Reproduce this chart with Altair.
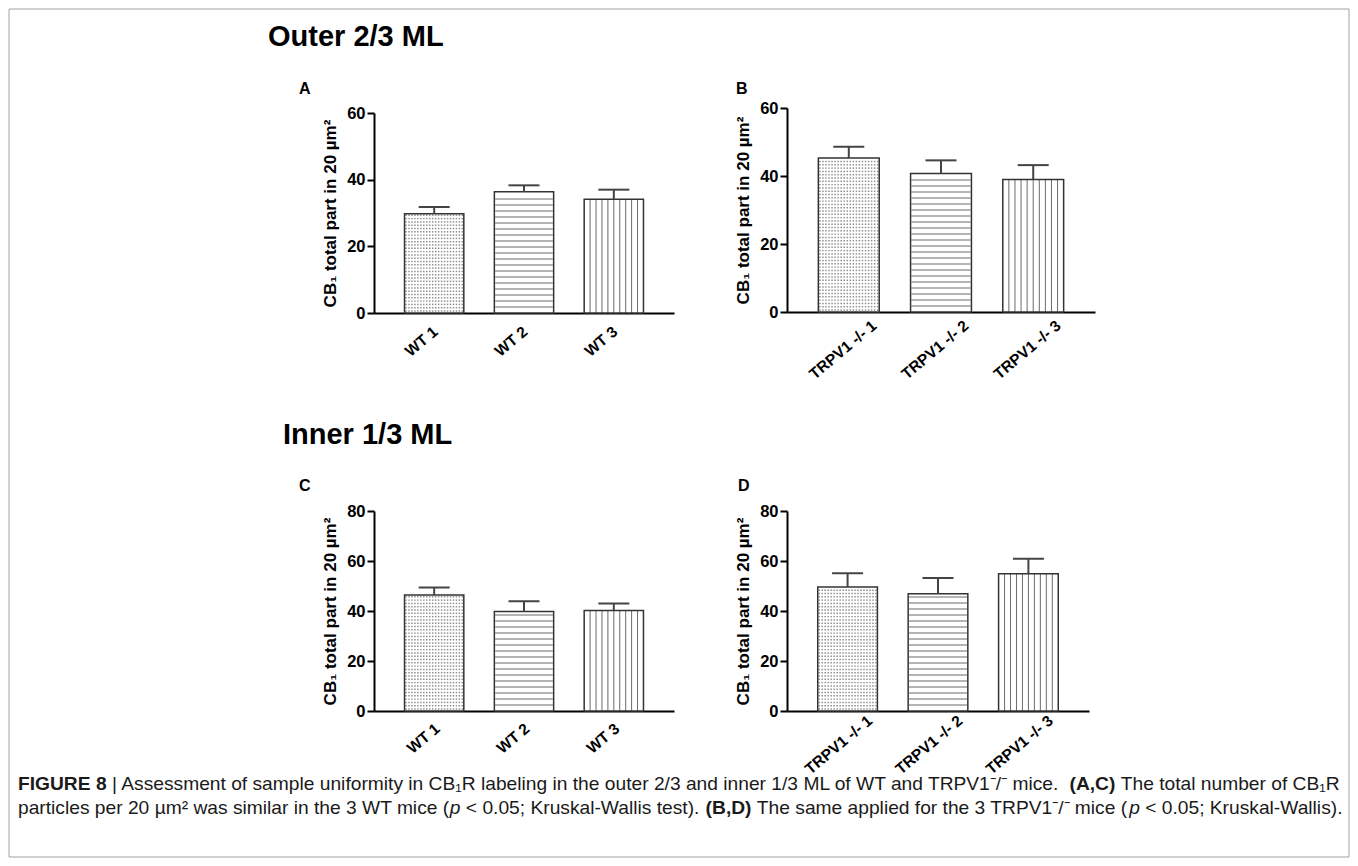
import altair as alt
import pandas as pd

# ---------------- data ----------------
wt_labels = ["WT 1", "WT 2", "WT 3"]
ko_labels = ["TRPV1 -/- 1", "TRPV1 -/- 2", "TRPV1 -/- 3"]
fill_patterns = ["dots", "hlines", "vlines"]

outer_wt_mean = [29.8, 36.4, 34.1]
outer_wt_sem = [2.0, 1.9, 2.9]
outer_ko_mean = [45.3, 40.7, 39.0]
outer_ko_sem = [3.3, 3.9, 4.2]
inner_wt_mean = [46.4, 39.8, 40.2]
inner_wt_sem = [3.0, 4.1, 2.8]
inner_ko_mean = [49.6, 46.9, 54.9]
inner_ko_sem = [5.5, 6.3, 6.0]

y_axis_title = "CB₁ total part in 20 µm²"
outer_title = "Outer 2/3 ML"
inner_title = "Inner 1/3 ML"
panel_letters = ["A", "B", "C", "D"]
caption_line1 = [
    ("FIGURE 8", "b"),
    (" | Assessment of sample uniformity in CB₁R labeling in the outer 2/3 and inner 1/3 ML of WT and TRPV1⁻/⁻ mice. ", "r"),
    ("(A,C)", "b"),
    (" The total number of CB₁R", "r"),
]
caption_line2 = [
    ("particles per 20 µm² was similar in the 3 WT mice (", "r"),
    ("p", "i"),
    (" < 0.05; Kruskal-Wallis test). ", "r"),
    ("(B,D)", "b"),
    (" The same applied for the 3 TRPV1⁻/⁻ mice (", "r"),
    ("p", "i"),
    (" < 0.05; Kruskal-Wallis).", "r"),
]

# ---------------- style ----------------
FONT = "Liberation Sans, Arial, Helvetica, sans-serif"
OUTLINE = "#333333"
PATTERN = "#6b6b6b"
DOTS = "#8f8f8f"
ERR = "#444444"
BORDER = "#a3a3a3"
HALF = 0.33          # half bar width, in category-step units
OUTER = 0.67         # distance of first bar centre from the axis, in steps
ONE = pd.DataFrame({"k": [0]})

# Arial / Liberation Sans advance widths (1/1000 em), used only to place caption runs
def _table(groups):
    t = {}
    for w, chars in groups.items():
        for ch in chars:
            t[ch] = w / 1000.0
    return t

REG = _table({191: "'", 222: "ijl", 260: "|", 278: " !,./:;[]\\Ift", 333: "()-r`",
              355: '"', 389: "*", 500: "ckvxyzsJ", 556: "0123456789abdeghnopqu$#?_L",
              584: "+<=>", 611: "FTZ", 667: "ABEKPSVXY&", 722: "CDHNRUw",
              778: "GOQ", 833: "mM", 889: "%", 944: "W"})
BOLD = _table({278: " ,./ijlI", 280: "|", 333: "()-:;ft", 389: "r", 500: "z",
               556: "0123456789acesJkvxy", 611: "bdghnopquFTZL", 667: "EPSVXY",
               722: "ABCDHKNRU", 778: "GOQw", 833: "M", 889: "m", 944: "W"})
EXTRA = {"₁": 0.40, "⁻": 0.35, "²": 0.333, "µ": 0.576, "μ": 0.576}


def em_width(s, table):
    return sum(table.get(ch, EXTRA.get(ch, 0.556)) for ch in s)


def label(text, x, y, size, weight="normal", style="normal", align="left", color="#000000"):
    return alt.Chart(ONE).mark_text(
        align=align, baseline="alphabetic", fontSize=size, fontWeight=weight,
        fontStyle=style, font=FONT, color=color,
    ).encode(x=alt.value(x), y=alt.value(y), text=alt.value(text))


def caption_runs(segments, x0, y, fs):
    out = []
    cx = x0
    for text, kind in segments:
        table = BOLD if kind == "b" else REG
        lead = len(text) - len(text.lstrip(" "))
        sx = cx + lead * table[" "] * fs
        out.append(label(text.strip(" "), sx, y, fs,
                         weight="bold" if kind == "b" else "normal",
                         style="italic" if kind == "i" else "normal",
                         color="#1a1a1a"))
        cx += em_width(text, table) * fs
    return out


def panel(labels, means, sems, ymax, width, height, top_pad, lab_offset, lab_pad, extra=()):
    df = pd.DataFrame({"idx": [0, 1, 2], "label": labels, "mean": means, "sem": sems,
                       "pat": fill_patterns})
    plot_h = height - top_pad
    hstep = ymax * 6.0 / plot_h
    dstep = ymax * 3.3 / plot_h
    step_px = width / (2 + 2 * OUTER)
    cap_half = 15.5 / step_px
    inset = 0.8 / step_px

    xs = alt.Scale(domain=[-OUTER, 2 + OUTER], nice=False, zero=False)
    ys = alt.Scale(domain=[0, ymax], range=[height, top_pad], nice=False)
    label_expr = "[" + ",".join("'" + l + "'" for l in labels) + "][datum.value]"
    x_axis = alt.Axis(
        title="", values=[0, 1, 2], labelExpr=label_expr, labelFlush=False,
        labelAngle=-40, labelAlign="right", labelBaseline="middle",
        labelFont=FONT, labelFontSize=15.5, labelFontWeight="bold", labelColor="#000000",
        labelPadding=lab_pad, labelOffset=lab_offset, ticks=False,
        domainColor="#000000", domainWidth=2, grid=False, labelOverlap=False,
    )
    y_axis = alt.Axis(
        title=y_axis_title, values=list(range(0, ymax + 1, 20)), format="d",
        labelFont=FONT, labelFontSize=16.5, labelFontWeight="bold", labelColor="#000000",
        labelPadding=2, tickSize=7, tickWidth=2, tickColor="#000000",
        domainColor="#000000", domainWidth=2, grid=False,
        titleFont=FONT, titleFontSize=17, titleFontWeight="bold", titleColor="#000000",
        titlePadding=7,
    )

    base = alt.Chart(df).transform_calculate(
        x0=f"datum.idx - {HALF}", x1=f"datum.idx + {HALF}",
        top="datum.mean + datum.sem", zero="0",
    )
    # axes are declared once, on the first layer; the other layers share its scales
    fillbar = base.mark_rect(color="white").encode(
        x=alt.X("x0:Q", scale=xs, axis=x_axis), x2="x1:Q",
        y=alt.Y("mean:Q", scale=ys, axis=y_axis), y2="zero:Q")
    dots = base.transform_filter("datum.pat == 'dots'").transform_calculate(
        row=f"sequence({dstep * 0.6}, datum.mean - {dstep * 0.4}, {dstep})",
        col="sequence(0, 20, 1)",
    ).transform_flatten(["row"]).transform_flatten(["col"]).transform_calculate(
        dx=f"datum.x0 + (datum.col + 0.5) * {2 * HALF / 20}",
    ).mark_square(size=2.2, color=DOTS, opacity=1, strokeWidth=0).encode(
        x="dx:Q", y="row:Q")
    hlines = base.transform_filter("datum.pat == 'hlines'").transform_calculate(
        hy=f"sequence({hstep}, datum.mean - {hstep * 0.3}, {hstep})",
        hx0=f"datum.x0 + {inset}", hx1=f"datum.x1 - {inset}",
    ).transform_flatten(["hy"]).mark_rule(color=PATTERN, strokeWidth=1).encode(
        x="hx0:Q", x2="hx1:Q", y="hy:Q")
    vlines = base.transform_filter("datum.pat == 'vlines'").transform_calculate(
        vk="sequence(1, 10, 1)",
    ).transform_flatten(["vk"]).transform_calculate(
        vx=f"datum.x0 + datum.vk * {2 * HALF / 10}",
    ).mark_rule(color=PATTERN, strokeWidth=1).encode(
        x="vx:Q", y="zero:Q", y2="mean:Q")
    outline = base.mark_rect(fill="white", fillOpacity=0, stroke=OUTLINE, strokeWidth=1.5).encode(
        x="x0:Q", x2="x1:Q", y="mean:Q", y2="zero:Q")
    err = base.mark_rule(color=ERR, strokeWidth=2).encode(
        x="idx:Q", y="mean:Q", y2="top:Q")
    cap = base.transform_calculate(
        c0=f"datum.idx - {cap_half}", c1=f"datum.idx + {cap_half}",
    ).mark_rule(color=ERR, strokeWidth=2).encode(
        x="c0:Q", x2="c1:Q", y="top:Q")

    return alt.layer(fillbar, dots, hlines, vlines, outline, err, cap, *extra).properties(
        width=width, height=height)


# annotations, placed relative to panel A's plot origin
fs_cap = 1323.0 / sum(em_width(t, BOLD if k == "b" else REG) for t, k in caption_line1)
annotations = [
    alt.Chart(ONE).mark_rect(fill="white", fillOpacity=0, stroke=BORDER, strokeWidth=1).encode(
        x=alt.value(-365), x2=alt.value(975), y=alt.value(-99), y2=alt.value(749)),
    label(outer_title, -106, -62, 29, weight="bold"),
    label(panel_letters[0], -75, -14, 16, weight="bold"),
    label(panel_letters[1], 362, -14, 16, weight="bold"),
    label(inner_title, -91, 336, 29, weight="bold"),
    label(panel_letters[2], -75, 383, 16, weight="bold"),
    label(panel_letters[3], 364, 383, 16, weight="bold"),
]
annotations += caption_runs(caption_line1, -356, 682, fs_cap)
annotations += caption_runs(caption_line2, -356, 706, fs_cap)

pA = panel(wt_labels, outer_wt_mean, outer_wt_sem, 60, 300, 205, 5, 1, 16, extra=annotations)
pB = panel(ko_labels, outer_ko_mean, outer_ko_sem, 60, 308, 204, 0, 25, 11)
pC = panel(wt_labels, inner_wt_mean, inner_wt_sem, 80, 300, 200, 0, 3, 15)
pD = panel(ko_labels, inner_ko_mean, inner_ko_sem, 80, 302, 200, 0, 22, 7)

chart = alt.concat(
    pA, pB, pC, pD, columns=2, bounds="flush", align="all",
    spacing={"row": 198, "column": 105},
).properties(padding=0, background="white").configure_view(strokeWidth=0)

chart.save("out.html", embed_options={"renderer": "svg", "actions": False})
